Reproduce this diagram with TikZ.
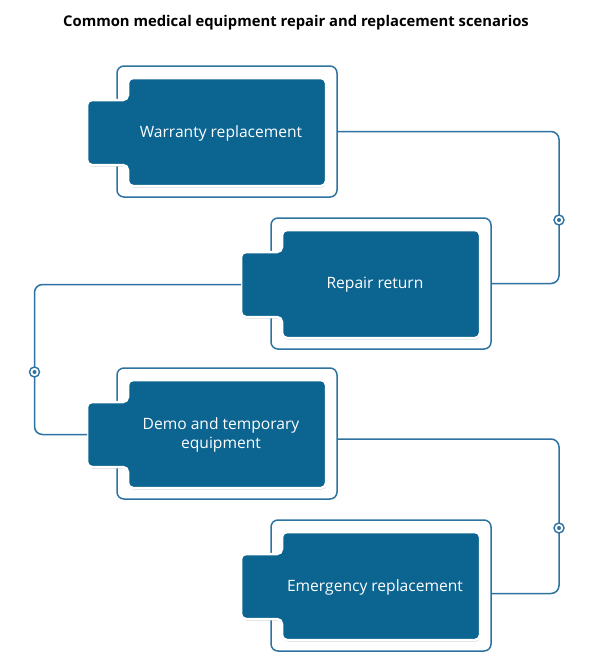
\documentclass[tikz,border=0pt]{standalone}
\usepackage{fontspec}
\setmainfont{Open Sans}
\usetikzlibrary{shadows,calc}
\definecolor{boxblue}{HTML}{0C6491}
\definecolor{lineblue}{HTML}{2D72A0}
\newcommand\scenariobox[4]{%
  \begin{scope}[shift={(#1,#2)}]
    \node[outline] (#3) at (227,131.5) {};
    \path[card] (227,78) -- (326,78) -- (326,186) -- (128,186) -- (128,165)
      -- (87,165) -- (87,100) -- (128,100) -- (128,78) -- cycle;
    \coordinate (#3t) at (87,132.5);
    \node[cardtext] (#3l) at (221,133) {#4};
  \end{scope}}
\begin{document}
\begin{tikzpicture}[x=1pt,y=-1pt,
  outline/.style={draw=lineblue, line width=1.5pt, rounded corners=7pt,
    minimum width=220pt, minimum height=131pt, inner sep=0pt},
  card/.style={fill=boxblue, draw=white, line width=2.5pt, rounded corners=5pt,
    drop shadow={shadow xshift=0.5pt, shadow yshift=-1.5pt, opacity=0.3, fill=black!70}},
  cardtext/.style={text=white, font=\fontsize{15.6}{19.5}\selectfont, align=center},
  conn/.style={draw=lineblue, line width=1.5pt, rounded corners=8pt},
  marker/.style={circle, draw=lineblue, fill=white, line width=1.4pt,
    minimum size=10pt, inner sep=0pt},
  mdot/.style={circle, fill=lineblue, minimum size=4pt, inner sep=0pt}
]
\useasboundingbox (0,0) rectangle (592,670);
\fill[white] (0,0) rectangle (592,670);

\node[font=\bfseries\fontsize{14.8}{18}\selectfont] (title) at (296,23)
  {Common medical equipment repair and replacement scenarios};

\scenariobox{0}{0}{b1}{Warranty replacement}
\scenariobox{154}{152}{b2}{Repair return}
\scenariobox{0}{302}{b3}{Demo and temporary\\equipment}
\scenariobox{154}{454}{b4}{Emergency replacement}

\coordinate (rx) at (559,0);
\coordinate (lx) at (34.5,0);
\coordinate (c3) at ([yshift=-5.5pt]b3.east);
\coordinate (c4) at ([yshift=-8pt]b4.east);

\draw[conn] (b1.east) -- (rx |- b1.east) -- (rx |- b2.east) -- (b2.east);
\draw[conn] (b2t) -- (lx |- b2t) -- (lx |- b3t) -- (b3t);
\draw[conn] (c3) -- (rx |- c3) -- (rx |- c4) -- (c4);

\node[marker] (m1) at (559,220) {};
\node[mdot] at (m1) {};
\node[marker] (m2) at (34.5,372) {};
\node[mdot] at (m2) {};
\node[marker] (m3) at (559,528) {};
\node[mdot] at (m3) {};
\end{tikzpicture}
\end{document}
